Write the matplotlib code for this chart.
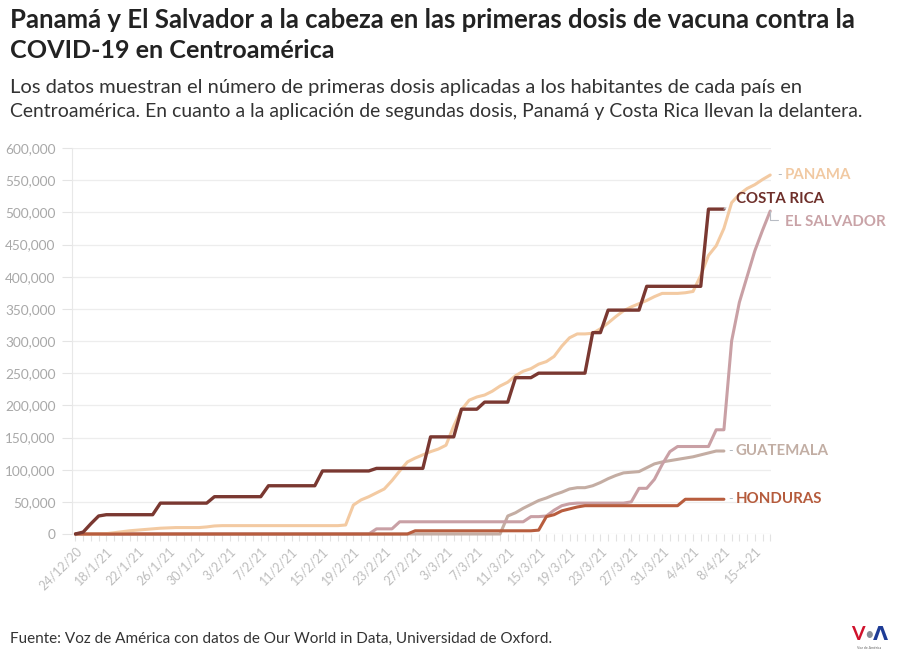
import matplotlib
matplotlib.use('Agg')
import matplotlib.pyplot as plt
import pandas as pd
import numpy as np

# ---------------- data ----------------
early_dates = ["24/12/20", "31/12/20", "7/1/21", "14/1/21"]
daily_dates = pd.date_range("2021-01-18", "2021-04-11")
late_dates = ["15-4-21", "16-4-21", "17-4-21"]
categories = early_dates + [f"{d.day}/{d.month}/21" for d in daily_dates] + late_dates

costa_rica = [0, 3000, 16000, 28000, 30000, 30000, 30000, 30000, 30000, 30000,
              30000, 48000, 48000, 48000, 48000, 48000, 48000, 48000, 58000, 58000,
              58000, 58000, 58000, 58000, 58000, 75000, 75000, 75000, 75000, 75000,
              75000, 75000, 98000, 98000, 98000, 98000, 98000, 98000, 98000, 102000,
              102000, 102000, 102000, 102000, 102000, 102000, 151000, 151000, 151000, 151000,
              194000, 194000, 194000, 205000, 205000, 205000, 205000, 243000, 243000, 243000,
              250000, 250000, 250000, 250000, 250000, 250000, 250000, 313000, 313000, 348000,
              348000, 348000, 348000, 348000, 385000, 385000, 385000, 385000, 385000, 385000,
              385000, 385000, 505000, 505000, 505000,
              None, None, None, None, None, None]

panama = [0, 0, 0, 0, 500, 2000, 3500, 5000, 6000, 7000,
          8000, 9000, 9500, 10000, 10000, 10000, 10000, 11000, 12500, 13000,
          13000, 13000, 13000, 13000, 13000, 13000, 13000, 13000, 13000, 13000,
          13000, 13000, 13000, 13000, 13000, 14000, 45000, 53000, 58000, 64000,
          70000, 83000, 98000, 112000, 118000, 123000, 128000, 132000, 138000, 168000,
          193000, 208000, 213000, 216000, 222000, 230000, 236000, 246000, 253000, 257000,
          264000, 268000, 276000, 292000, 305000, 311000, 311000, 312000, 319000, 328000,
          338000, 347000, 353000, 358000, 363000, 369000, 374000, 374000, 374000, 375000,
          377000, 402000, 433000, 448000, 475000, 515000, 528000, 537000, 543000, 551000,
          558000]

el_salvador = [0, 0, 0, 0, 0, 0, 0, 0, 0, 0,
               0, 0, 0, 0, 0, 0, 0, 0, 0, 0,
               0, 0, 0, 0, 0, 0, 0, 0, 0, 0,
               0, 0, 0, 0, 0, 0, 0, 0, 0, 8000,
               8000, 8000, 19000, 19000, 19000, 19000, 19000, 19000, 19000, 19000,
               19000, 19000, 19000, 19000, 19000, 19000, 19000, 19000, 19000, 27000,
               27000, 28000, 37000, 44000, 47000, 48000, 48000, 48000, 48000, 48000,
               48000, 48000, 50000, 71000, 71000, 85000, 108000, 128000, 136000, 136000,
               136000, 136000, 136000, 162000, 162000, 300000, 360000, 400000, 440000, 472000,
               502000]

guatemala = [0, 0, 0, 0, 0, 0, 0, 0, 0, 0,
             0, 0, 0, 0, 0, 0, 0, 0, 0, 0,
             0, 0, 0, 0, 0, 0, 0, 0, 0, 0,
             0, 0, 0, 0, 0, 0, 0, 0, 0, 0,
             0, 0, 0, 0, 0, 0, 0, 0, 0, 0,
             0, 0, 0, 0, 0, 0, 28000, 33000, 40000, 46000,
             52000, 56000, 61000, 65000, 70000, 72000, 72000, 75000, 80000, 86000,
             91000, 95000, 96000, 97000, 103000, 109000, 112000, 114000, 116000, 118000,
             120000, 123000, 126000, 129000, 129000,
             None, None, None, None, None, None]

honduras = [0, 0, 0, 0, 0, 0, 0, 0, 0, 0,
            0, 0, 0, 0, 0, 0, 0, 0, 0, 0,
            0, 0, 0, 0, 0, 0, 0, 0, 0, 0,
            0, 0, 0, 0, 0, 0, 0, 0, 0, 0,
            0, 0, 0, 0, 5000, 5000, 5000, 5000, 5000, 5000,
            5000, 5000, 5000, 5000, 5000, 5000, 5000, 5000, 5000, 5000,
            6000, 27000, 30000, 36000, 39000, 42000, 44000, 44000, 44000, 44000,
            44000, 44000, 44000, 44000, 44000, 44000, 44000, 44000, 44000, 54000,
            54000, 54000, 54000, 54000, 54000,
            None, None, None, None, None, None]

# drawing order: bottom to top
series_names = ["GUATEMALA", "EL SALVADOR", "PANAMA", "HONDURAS", "COSTA RICA"]
series_values = [guatemala, el_salvador, panama, honduras, costa_rica]
series_colors = ["#c4ada3", "#c9a0a5", "#f3caa2", "#b85d3e", "#7a3831"]
label_colors = ["#c2aea4", "#c9a3a7", "#f1c9a2", "#b55b3c", "#6e2f2a"]
series_widths = [2.2, 2.2, 2.2, 2.2, 2.4]

y_ticks = [0, 50000, 100000, 150000, 200000, 250000, 300000, 350000,
           400000, 450000, 500000, 550000, 600000]

title_lines = ["Panamá y El Salvador a la cabeza en las primeras dosis de vacuna contra la",
               "COVID-19 en Centroamérica"]
subtitle_lines = ["Los datos muestran el número de primeras dosis aplicadas a los habitantes de cada país en",
                  "Centroamérica. En cuanto a la aplicación de segundas dosis, Panamá y Costa Rica llevan la delantera."]
source_text = "Fuente: Voz de América con datos de Our World in Data, Universidad de Oxford."

# ---------------- figure ----------------
W, H = 900, 670
fig = plt.figure(figsize=(W / 100, H / 100), dpi=100)
plt.rcParams['font.family'] = ['Lato', 'DejaVu Sans']

ax_left, ax_right, ax_top, ax_bottom = 72, 771, 148, 534
ax = fig.add_axes([ax_left / W, 1 - ax_bottom / H, (ax_right - ax_left) / W, (ax_bottom - ax_top) / H])

x = np.arange(len(categories))
for name, vals, col, lw in zip(series_names, series_values, series_colors, series_widths):
    v = np.array([np.nan if a is None else a for a in vals], dtype=float)
    ax.plot(x, v, color=col, lw=lw, solid_joinstyle='round', solid_capstyle='round',
            clip_on=False, zorder=3)

ax.set_xlim(-0.45, 90.1)
ax.set_ylim(0, 600000)

for s in ['top', 'right', 'bottom']:
    ax.spines[s].set_visible(False)
ax.spines['left'].set_color('#e8e8e8')
ax.spines['left'].set_linewidth(0.8)

ax.set_yticks(y_ticks)
ax.set_yticklabels([f"{t:,}" for t in y_ticks])
ax.tick_params(axis='y', length=7, width=0.8, color='#e4e4e4', pad=5,
               labelsize=9.8, labelcolor='#a8a8a8')
ax.yaxis.grid(True, color='#ededed', lw=0.9)
ax.set_axisbelow(True)

major = list(range(0, 89, 4))
ax.set_xticks(major)
ax.set_xticklabels([categories[i] for i in major], rotation=45, ha='right',
                   rotation_mode='anchor')
ax.set_xticks(x, minor=True)
ax.tick_params(axis='x', which='both', length=5, width=0.8, color='#e2e2e2',
               labelsize=9, labelcolor='#bdbdbd', pad=3)

# end-of-line labels
offsets = {"PANAMA": (15, 0), "COSTA RICA": (12, 10), "EL SALVADOR": (15, -11),
           "GUATEMALA": (12, 0), "HONDURAS": (12, 0)}
for name, vals, lc in zip(series_names, series_values, label_colors):
    last = max(i for i, a in enumerate(vals) if a is not None)
    dx, dy = offsets[name]
    ax.annotate(name, xy=(last, vals[last]), xytext=(dx, dy), textcoords='offset pixels',
                ha='left', va='center', fontsize=10.8, fontweight='bold', color=lc,
                annotation_clip=False)
    if name in ("PANAMA", "GUATEMALA", "HONDURAS"):
        ax.annotate("-", xy=(last, vals[last]), xytext=(dx - 8, 0), textcoords='offset pixels',
                    ha='left', va='center', fontsize=9, color='#b0b8c0', annotation_clip=False)
    elif name == "EL SALVADOR":
        ax.annotate("", xy=(last, vals[last]), xytext=(8, -9), textcoords='offset pixels',
                    arrowprops=dict(arrowstyle='-', color='#b8bcc4', lw=0.8,
                                    connectionstyle='angle,angleA=0,angleB=90,rad=0',
                                    shrinkA=0, shrinkB=0),
                    annotation_clip=False)
    elif name == "COSTA RICA":
        ax.annotate("", xy=(last, vals[last]), xytext=(10, 7), textcoords='offset pixels',
                    arrowprops=dict(arrowstyle='-', color='#b8bcc4', lw=0.8,
                                    shrinkA=7, shrinkB=0),
                    annotation_clip=False)

# ---------------- texts, fitted to measured widths ----------------
renderer = fig.canvas.get_renderer()

def fitted_text(xp, yp, s, target_w, size, **kw):
    t = fig.text(xp / W, 1 - yp / H, s, fontsize=size, ha='left', va='center', **kw)
    w = t.get_window_extent(renderer=renderer).width
    if w > 0:
        t.set_fontsize(size * target_w / w)
    return t

fitted_text(10, 20, title_lines[0], 848, 16, fontweight='bold', color='#222222')
fitted_text(10, 50, title_lines[1], 325, 16, fontweight='bold', color='#222222')
fitted_text(10, 88, subtitle_lines[0], 790, 12, color='#333333')
fitted_text(10, 112, subtitle_lines[1], 847, 12, color='#333333')
fitted_text(10, 639, source_text, 542, 10, color='#333333')

# VOA logo
fig.text(858 / W, 1 - 635 / H, "V", fontsize=14, fontweight='bold', color='#d0122c',
         ha='center', va='center')
fig.text(869 / W, 1 - 635 / H, "•", fontsize=12, color='#8a8f98', ha='center', va='center')
fig.text(880 / W, 1 - 635 / H, "Λ", fontsize=14, fontweight='bold', color='#1e3c96',
         ha='center', va='center', family=['DejaVu Sans'])
fig.text(869 / W, 1 - 648 / H, "Voz de América", fontsize=2.5, color='#666666',
         ha='center', va='center')

fig.savefig("out.png", dpi=100)
